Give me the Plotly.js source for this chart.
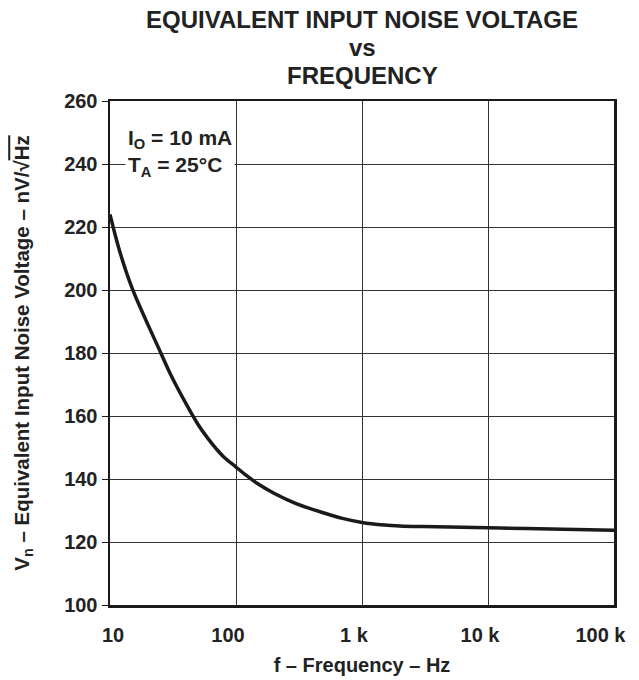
<!DOCTYPE html>
<html>
<head>
<meta charset="utf-8">
<script src="https://cdn.plot.ly/plotly-3.0.1.min.js"></script>
<style>html,body{margin:0;padding:0;background:#fff;}#chart{width:639px;height:680px;}</style>
</head>
<body>
<div id="chart"></div>
<script>
// Frequency (Hz) and equivalent input noise voltage (nV/√Hz)
const freqHz = [10, 12, 15, 20, 25, 30, 40, 50, 60, 70, 80, 100, 120, 150, 200, 300, 500, 700, 1000, 1500, 2000, 3000, 5000, 10000, 20000, 50000, 100000];
const noiseNV = [224, 212, 200.5, 189, 180.5, 173.5, 164, 157.3, 152.8, 149.5, 147, 143.8, 141.2, 138.4, 135.5, 132.2, 129.2, 127.5, 126.2, 125.4, 125.1, 124.9, 124.75, 124.5, 124.25, 123.95, 123.7];

const xTickVals = [10, 100, 1000, 10000, 100000];
const xTickText = ['10', '100', '1 k', '10 k', '100 k'];
const yTickVals = [100, 120, 140, 160, 180, 200, 220, 240, 260];
const titleLines = ['EQUIVALENT INPUT NOISE VOLTAGE', 'vs', 'FREQUENCY'];
const conditionText = 'I<sub>O</sub> = 10 mA<br>T<sub>A</sub> = 25°C';

const FONT = 'Liberation Sans, Arial, Helvetica, sans-serif';
const titleY = [1.161, 1.107, 1.05];
// spacing so the labels sit where the reference places them
const NB = '\u00a0';
const xTickShown = [NB.repeat(4) + xTickText[0], xTickText[1], xTickText[2], xTickText[3], xTickText[4] + NB.repeat(2)];

const annotations = titleLines.map((t, i) => ({
  text: '<b>' + t + '</b>', xref: 'paper', yref: 'paper', x: 0.5, y: titleY[i],
  xanchor: 'center', yanchor: 'middle', showarrow: false,
  font: {family: FONT, size: 24, color: '#222'}
}));
annotations.push({
  text: '<b>' + conditionText + '</b>', xref: 'paper', yref: 'paper',
  x: 0.03, y: 0.956, xanchor: 'left', yanchor: 'top', align: 'left',
  showarrow: false, bgcolor: '#ffffff', borderpad: 2,
  font: {family: FONT, size: 21, color: '#222'}
});

const trace = {
  x: freqHz, y: noiseNV, type: 'scatter', mode: 'lines',
  line: {color: '#1a1a1a', width: 3.5, shape: 'spline', smoothing: 1},
  hoverinfo: 'skip'
};

const layout = {
  width: 639, height: 680,
  margin: {l: 110, r: 25, t: 101, b: 75},
  paper_bgcolor: '#fff', plot_bgcolor: '#fff',
  showlegend: false,
  font: {family: FONT, color: '#222'},
  xaxis: {
    type: 'log', range: [1, 5], tickvals: xTickVals, ticktext: xTickShown,
    showgrid: true, gridcolor: '#333', gridwidth: 1,
    showline: true, linecolor: '#1a1a1a', linewidth: 2.5, mirror: true,
    ticks: '', zeroline: false, ticklabelstandoff: 10, ticklabelshift: -8, ticklabeloverflow: 'allow',
    tickfont: {family: FONT, size: 20, color: '#222', weight: 'bold'},
    title: {text: '<b>f – Frequency – Hz</b>', font: {family: FONT, size: 20, color: '#222'}, standoff: 14}
  },
  yaxis: {
    range: [100, 260], tickvals: yTickVals,
    showgrid: true, gridcolor: '#333', gridwidth: 1,
    showline: true, linecolor: '#1a1a1a', linewidth: 2.5, mirror: true,
    ticks: 'outside', ticklen: 6, tickcolor: '#1a1a1a', tickwidth: 1,
    zeroline: false,
    tickfont: {family: FONT, size: 20, color: '#222', weight: 'bold'},
    title: {text: '<b>V<sub>n</sub> – Equivalent Input Noise Voltage – nV/√<span style="text-decoration:overline">Hz</span></b>', font: {family: FONT, size: 20.5, color: '#222'}, standoff: 29}
  },
  annotations: annotations
};

Plotly.newPlot('chart', [trace], layout, {staticPlot: true, displayModeBar: false});
</script>
</body>
</html>
